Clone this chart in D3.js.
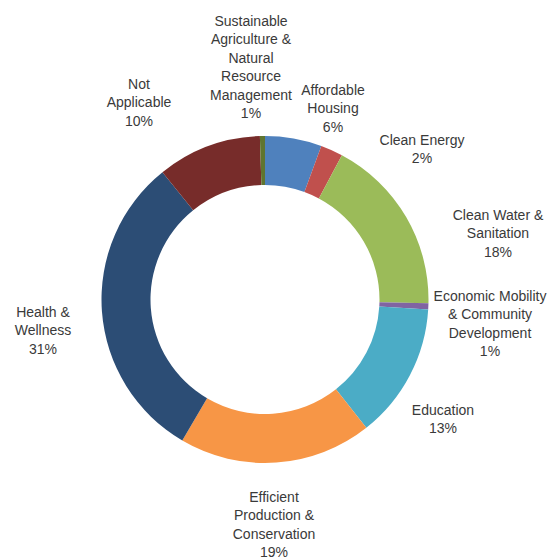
<!DOCTYPE html>
<html lang="en">
<head>
    <meta charset="UTF-8">
    <title>Donut</title>
    <script src="https://d3js.org/d3.v7.min.js"></script>
    <style>
        body { margin: 0; background: #fff; }
        text { font-family: "Liberation Sans", "Arial", sans-serif; font-size: 15.5px; fill: #3a3a3a; }
    </style>
</head>
<body>
    <svg id="chart" width="549" height="559"></svg>
<script>
    // data (share of total, %), clockwise from 12 o'clock
    const categories = ['Affordable Housing', 'Clean Energy', 'Clean Water & Sanitation',
        'Economic Mobility & Community Development', 'Education', 'Efficient Production & Conservation',
        'Health & Wellness', 'Not Applicable', 'Sustainable Agriculture & Natural Resource Management'];
    const values = [5.6, 2.2, 17.6, 0.6, 13.4, 19.1, 30.8, 10.3, 0.5];
    const pctLabels = ['6%', '2%', '18%', '1%', '13%', '19%', '31%', '10%', '1%'];
    const labelLines = [
        ['Affordable', 'Housing'],
        ['Clean Energy'],
        ['Clean Water &', 'Sanitation'],
        ['Economic Mobility', '& Community', 'Development'],
        ['Education'],
        ['Efficient', 'Production &', 'Conservation'],
        ['Health &', 'Wellness'],
        ['Not', 'Applicable'],
        ['Sustainable', 'Agriculture &', 'Natural', 'Resource', 'Management']
    ];
    const colors = ['#4f81bd', '#c0504d', '#9bbb59', '#8064a2', '#4bacc6', '#f79646', '#2c4d75', '#772c2a', '#5f7530'];

    // label placement (baseline of first line, center x), picked to match the layout
    const labelAnchor = [[333, 95], [422, 145], [498, 220], [490, 301], [443, 415], [274, 502], [43, 317], [139, 89], [251, 26]];

    const svg = d3.select('#chart');
    const cx = 265, cy = 299.5;
    const outerR = 163.5, innerR = 114.5;
    const lineH = 18.5;

    const pie = d3.pie().sort(null).value(d => d);
    const arc = d3.arc().innerRadius(innerR).outerRadius(outerR);

    const g = svg.append('g').attr('transform', `translate(${cx},${cy})`);
    g.selectAll('path')
        .data(pie(values))
        .join('path')
        .attr('d', arc)
        .attr('fill', (d, i) => colors[i]);

    // the original uses a condensed face, squeeze the regular one to the same width
    const probe = svg.append('text').text('Economic Mobility');
    const sx = 113 / probe.node().getComputedTextLength();
    probe.remove();

    const labels = svg.selectAll('text.lbl')
        .data(categories)
        .join('text')
        .attr('class', 'lbl')
        .attr('text-anchor', 'middle')
        .attr('transform', (d, i) => `translate(${labelAnchor[i][0]},${labelAnchor[i][1]}) scale(${sx},1)`);

    labels.each(function (d, i) {
        const t = d3.select(this);
        const lines = labelLines[i].concat([pctLabels[i]]);
        lines.forEach((l, k) => {
            t.append('tspan')
                .attr('x', 0)
                .attr('dy', k === 0 ? 0 : lineH)
                .text(l);
        });
    });
</script>
</body>
</html>
